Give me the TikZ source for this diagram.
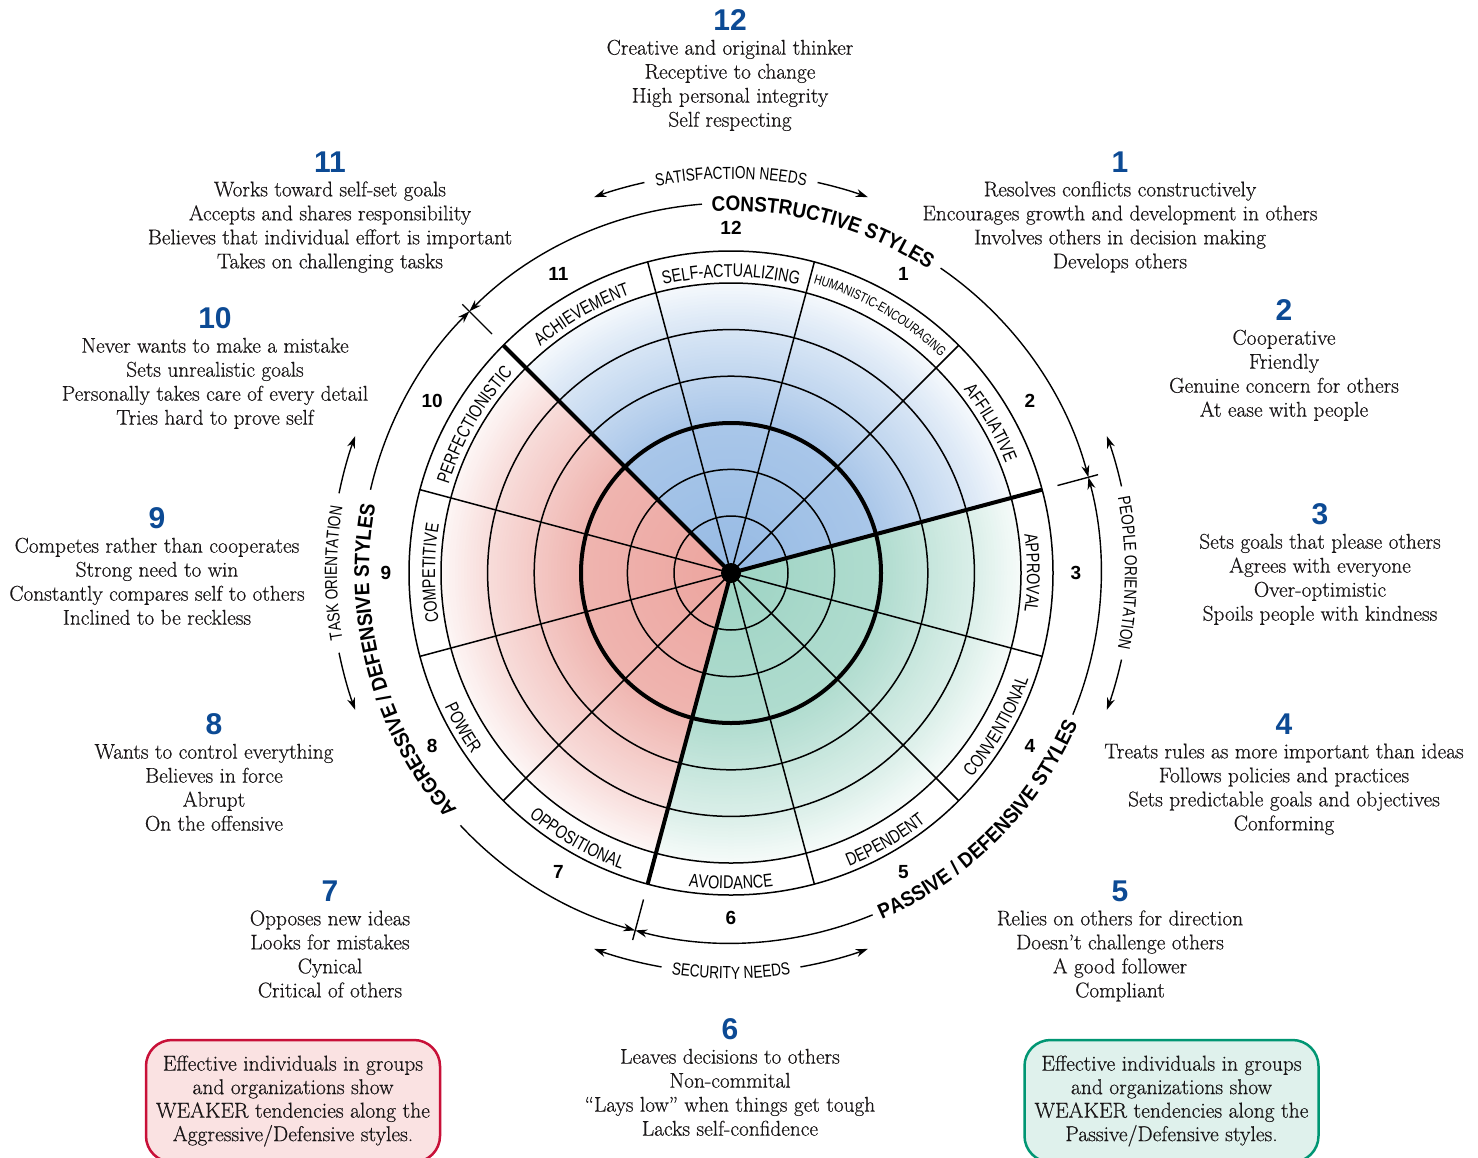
\documentclass[tikz,border=0pt]{standalone}
\usepackage{fontspec}
\setmainfont{Latin Modern Roman}[RawFeature={embolden=0.5}]
\newfontfamily\csans[FakeStretch=0.78]{Liberation Sans}
\newfontfamily\bsans[FakeStretch=0.9]{Liberation Sans}
\newfontfamily\nsans{Liberation Sans}
\usetikzlibrary{arrows.meta,decorations.text}
\definecolor{numblue}{RGB}{12,74,148}
\definecolor{textc}{RGB}{25,22,23}
\definecolor{cblue}{RGB}{150,186,228}
\definecolor{cred}{RGB}{236,164,158}
\definecolor{cgreen}{RGB}{158,212,196}
\definecolor{redline}{RGB}{200,16,56}
\definecolor{redfill}{RGB}{250,226,226}
\definecolor{greenline}{RGB}{0,150,115}
\definecolor{greenfill}{RGB}{223,241,236}
\newcommand\numf{\nsans\bfseries\fontsize{30}{30}\selectfont\color{numblue}}
% ring label, top half (clockwise, tops outward)
\newcommand\toplab[4]{\path[decorate,decoration={text along path,text align=center,
  text={|\csans\fontsize{#3}{#3}\selectfont|#4}}] (#1+22:#2) arc[start angle=#1+22,end angle=#1-22,radius=#2];}
% ring label, bottom half (counterclockwise, tops inward)
\newcommand\botlab[4]{\path[decorate,decoration={text along path,text align=center,
  text={|\csans\fontsize{#3}{#3}\selectfont|#4}}] (#1-22:#2) arc[start angle=#1-22,end angle=#1+22,radius=#2];}
\newcommand\cwbold[3]{\path[decorate,decoration={text along path,text align=center,
  text={|\bsans\bfseries\fontsize{21}{21}\selectfont|#3}}] (#1+40:#2) arc[start angle=#1+40,end angle=#1-40,radius=#2];}
\newcommand\ccwbold[3]{\path[decorate,decoration={text along path,text align=center,
  text={|\bsans\bfseries\fontsize{21}{21}\selectfont|#3}}] (#1-40:#2) arc[start angle=#1-40,end angle=#1+40,radius=#2];}
% graded wedge: start angle, end angle, colour
\newcommand\wedgefill[3]{\begin{scope}
  \clip (0,0) -- (#1:290) arc[start angle=#1,end angle=#2,radius=290] -- cycle;
  \foreach \i in {97,96,...,1}{%
    \pgfmathsetmacro\rr{\i*3}%
    \pgfmathsetmacro\pct{\rr<150 ? 100-18*\rr/150 : (\rr<250 ? 82-47*(\rr-150)/100 : 35-25*(\rr-250)/40)}%
    \fill[#3!\pct!white] (0,0) circle[radius=\rr];}
  \end{scope}}
\begin{document}
\begin{tikzpicture}[x=1pt,y=1pt,line join=round,
  thinl/.style={line width=1.5pt},
  thickl/.style={line width=4pt},
  arcl/.style={line width=1.4pt},
  arr/.style={line width=1.4pt,-{Stealth[length=12pt,width=8pt]}},
  desc/.style={align=center,inner sep=0pt,anchor=north,text=textc,font=\fontsize{21.3}{24}\selectfont},
  ringnum/.style={inner sep=0pt,font=\nsans\bfseries\fontsize{19}{19}\selectfont},
  note/.style={align=center,inner sep=0pt,rounded corners=26pt,line width=2.5pt,minimum width=294pt,minimum height=122pt,text=textc,font=\fontsize{21.5}{23.5}\selectfont}]
\useasboundingbox (0,0) rectangle (1478,-1157);
\fill[white] (0,0) rectangle (1478,-1157);
\begin{scope}[shift={(731,-573)}]
  \wedgefill{15}{135}{cblue}
  \wedgefill{135}{255}{cred}
  \wedgefill{255}{375}{cgreen}
  \foreach \r in {57,103.6,196.8,243.4,290,322} \draw[thinl] (0,0) circle[radius=\r];
  \draw[thickl] (0,0) circle[radius=150];
  \foreach \a in {45,75,105,165,195,225,285,315,345} \draw[thinl] (0,0) -- (\a:322);
  \foreach \a in {15,135,255} \draw[thickl] (0,0) -- (\a:322);
  \fill (0,0) circle[radius=10];
  % ring labels
  \toplab{90}{296}{18.5}{SELF-ACTUALIZING}
  \toplab{60}{301}{13.5}{HUMANISTIC-ENCOURAGING}
  \toplab{30}{296}{18.5}{AFFILIATIVE}
  \toplab{0}{296}{18.5}{APPROVAL}
  \toplab{120}{296}{18.5}{ACHIEVEMENT}
  \toplab{150}{296}{18.5}{PERFECTIONISTIC}
  \toplab{180}{296}{18.5}{COMPETITIVE}
  \botlab{-30}{316}{18.5}{CONVENTIONAL}
  \botlab{-60}{316}{18.5}{DEPENDENT}
  \botlab{-90}{316}{18.5}{AVOIDANCE}
  \botlab{-120}{316}{18.5}{OPPOSITIONAL}
  \botlab{-150}{316}{18.5}{POWER}
  % ring numbers
  \node[ringnum] (r12) at (90:345) {12};
  \node[ringnum] (r1) at (60:345) {1};
  \node[ringnum] (r2) at (30:345) {2};
  \node[ringnum] (r3) at (0:345) {3};
  \node[ringnum] (r4) at (-30:345) {4};
  \node[ringnum] (r5) at (-60:345) {5};
  \node[ringnum] (r6) at (-90:345) {6};
  \node[ringnum] (r7) at (-120:345) {7};
  \node[ringnum] (r8) at (-150:345) {8};
  \node[ringnum] (r9) at (180:345) {9};
  \node[ringnum] (r10) at (150:345) {10};
  \node[ringnum] (r11) at (120:345) {11};
  % ticks
  \foreach \a in {15,135,255} \draw[arcl] (\a:338) -- (\a:380);
  % style arcs
  \draw[arr] (94.5:370) arc[start angle=94.5,end angle=135,radius=370];
  \draw[arr] (55.5:370) arc[start angle=55.5,end angle=15,radius=370];
  \draw[arr] (167:370) arc[start angle=167,end angle=135,radius=370];
  \draw[arr] (223:370) arc[start angle=223,end angle=255,radius=370];
  \draw[arr] (292.5:370) arc[start angle=292.5,end angle=255,radius=370];
  \draw[arr] (337.5:370) arc[start angle=337.5,end angle=375,radius=370];
  \cwbold{75}{362}{CONSTRUCTIVE STYLES}
  \cwbold{195}{362}{AGGRESSIVE / DEFENSIVE STYLES}
  \ccwbold{315}{378}{PASSIVE / DEFENSIVE STYLES}
  % outer need / orientation arcs
  \draw[arr] (102.5:400) arc[start angle=102.5,end angle=110,radius=400];
  \draw[arr] (77.5:400) arc[start angle=77.5,end angle=70,radius=400];
  \draw[arr] (260:400) arc[start angle=260,end angle=250,radius=400];
  \draw[arr] (280:400) arc[start angle=280,end angle=290,radius=400];
  \draw[arr] (168.5:400) arc[start angle=168.5,end angle=160,radius=400];
  \draw[arr] (191.5:400) arc[start angle=191.5,end angle=200,radius=400];
  \draw[arr] (12.5:400) arc[start angle=12.5,end angle=20,radius=400];
  \draw[arr] (-12.5:400) arc[start angle=-12.5,end angle=-20,radius=400];
  \toplab{90}{394}{17.5}{SATISFACTION NEEDS}
  \botlab{270}{406}{17.5}{SECURITY NEEDS}
  \toplab{180}{394}{17.5}{TASK ORIENTATION}
  \toplab{0}{394}{17.5}{PEOPLE ORIENTATION}
\end{scope}
% descriptions
\node[desc] (d12) at (730,-9.5) {{\numf 12}\\Creative and original thinker\\Receptive to change\\High personal integrity\\Self respecting};
\node[desc] (d11) at (330,-151.5) {{\numf 11}\\Works toward self-set goals\\Accepts and shares responsibility\\Believes that individual effort is important\\Takes on challenging tasks};
\node[desc] (d1) at (1120,-151.5) {{\numf 1}\\Resolves conflicts constructively\\Encourages growth and development in others\\Involves others in decision making\\Develops others};
\node[desc] (d10) at (215,-307.5) {{\numf 10}\\Never wants to make a mistake\\Sets unrealistic goals\\Personally takes care of every detail\\Tries hard to prove self};
\node[desc] (d2) at (1284,-299.5) {{\numf 2}\\Cooperative\\Friendly\\Genuine concern for others\\At ease with people};
\node[desc] (d9) at (157,-507.5) {{\numf 9}\\Competes rather than cooperates\\Strong need to win\\Constantly compares self to others\\Inclined to be reckless};
\node[desc] (d3) at (1320,-503.5) {{\numf 3}\\Sets goals that please others\\Agrees with everyone\\Over-optimistic\\Spoils people with kindness};
\node[desc] (d8) at (214,-713.5) {{\numf 8}\\Wants to control everything\\Believes in force\\Abrupt\\On the offensive};
\node[desc] (d4) at (1284,-713.5) {{\numf 4}\\Treats rules as more important than ideas\\Follows policies and practices\\Sets predictable goals and objectives\\Conforming};
\node[desc] (d7) at (330,-880.5) {{\numf 7}\\Opposes new ideas\\Looks for mistakes\\Cynical\\Critical of others};
\node[desc] (d5) at (1120,-880.5) {{\numf 5}\\Relies on others for direction\\Doesn’t challenge others\\A good follower\\Compliant};
\node[desc] (d6) at (730,-1018.5) {{\numf 6}\\Leaves decisions to others\\Non-commital\\“Lays low” when things get tough\\Lacks self-confidence};
% notes
\node[note,draw=redline,fill=redfill] (noteA) at (293,-1101) {Effective individuals in groups\\and organizations show\\WEAKER tendencies along the\\Aggressive/Defensive styles.};
\node[note,draw=greenline,fill=greenfill] (noteP) at (1171.5,-1101) {Effective individuals in groups\\and organizations show\\WEAKER tendencies along the\\Passive/Defensive styles.};
\end{tikzpicture}
\end{document}
